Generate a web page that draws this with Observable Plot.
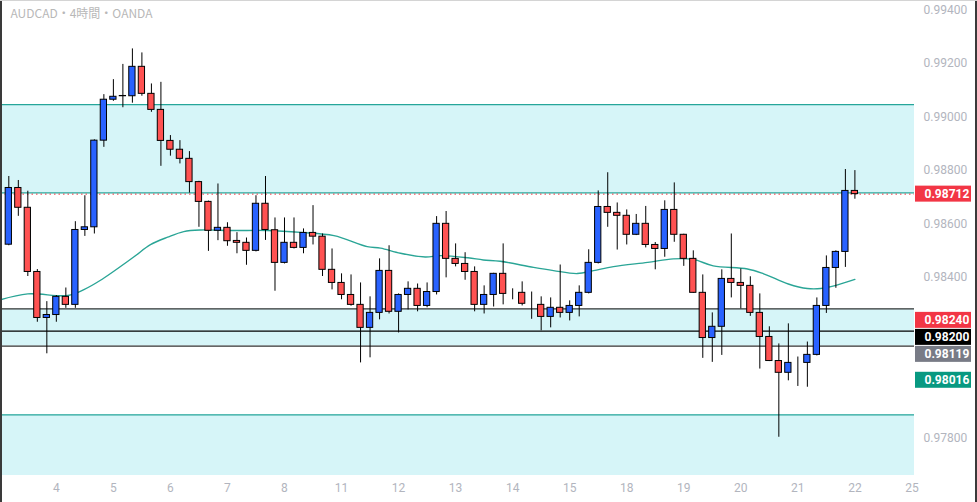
<!DOCTYPE html>
<html>
<head>
<meta charset="utf-8">
<script src="https://cdn.jsdelivr.net/npm/d3@7"></script>
<script src="https://cdn.jsdelivr.net/npm/@observablehq/plot@0.6"></script>
<style>
  html, body { margin: 0; padding: 0; background: #fff; }
  #wrap { position: relative; width: 977px; height: 502px; overflow: hidden; }
  .edge { position: absolute; pointer-events: none; }
</style>
</head>
<body>
<div id="wrap">
  <div id="chart"></div>
  <div class="edge" style="left:0;top:0;width:2px;height:502px;background:#3a3a3a"></div>
  <div class="edge" style="right:0;top:0;width:2px;height:502px;background:#3a3a3a"></div>
  <div class="edge" style="left:0;top:0;width:977px;height:1px;background:#d4d4d4"></div>
</div>
<script>
// ---- data (AUDCAD 4h, OANDA) ----
const opens = [0.98523,0.98735,0.98661,0.98421,0.98249,0.98260,0.98328,0.98298,0.98578,0.98588,
0.98912,0.99065,0.99078,0.99078,0.99188,0.99087,0.99027,0.98911,0.98878,0.98844,
0.98757,0.98683,0.98575,0.98586,0.98537,0.98530,0.98500,0.98676,0.98577,0.98455,
0.98530,0.98511,0.98567,0.98553,0.98429,0.98380,0.98335,0.98298,0.98212,0.98268,
0.98425,0.98272,0.98335,0.98358,0.98294,0.98346,0.98601,0.98470,0.98451,0.98421,
0.98298,0.98335,0.98414,0.98341,0.98343,0.98302,0.98298,0.98253,0.98287,0.98268,
0.98294,0.98343,0.98455,0.98664,0.98642,0.98631,0.98560,0.98601,0.98522,0.98507,
0.98653,0.98560,0.98470,0.98343,0.98174,0.98216,0.98395,0.98380,0.98369,0.98268,
0.98178,0.98088,0.98044,0.98081,0.98081,0.98111,0.98294,0.98436,0.98496,0.98724];
const highs = [0.98778,0.98763,0.98723,0.98430,0.98310,0.98333,0.98361,0.98609,0.98706,0.98915,
0.99084,0.99140,0.99197,0.99255,0.99240,0.99124,0.99130,0.98931,0.98912,0.98871,
0.98760,0.98686,0.98750,0.98605,0.98568,0.98548,0.98706,0.98778,0.98623,0.98623,
0.98623,0.98582,0.98669,0.98563,0.98507,0.98414,0.98410,0.98380,0.98328,0.98470,
0.98519,0.98339,0.98384,0.98376,0.98380,0.98628,0.98647,0.98526,0.98493,0.98440,
0.98369,0.98416,0.98526,0.98358,0.98384,0.98346,0.98328,0.98324,0.98447,0.98313,
0.98369,0.98504,0.98724,0.98792,0.98679,0.98653,0.98636,0.98666,0.98531,0.98687,
0.98754,0.98562,0.98500,0.98410,0.98268,0.98429,0.98563,0.98432,0.98403,0.98339,
0.98216,0.98152,0.98227,0.98103,0.98159,0.98324,0.98481,0.98500,0.98804,0.98800];
const lows = [0.98519,0.98629,0.98404,0.98233,0.98115,0.98233,0.98285,0.98285,0.98554,0.98563,
0.98887,0.99059,0.99035,0.99052,0.99078,0.99018,0.98816,0.98854,0.98825,0.98716,
0.98588,0.98498,0.98538,0.98517,0.98489,0.98446,0.98496,0.98539,0.98349,0.98451,
0.98507,0.98489,0.98522,0.98404,0.98354,0.98317,0.98293,0.98081,0.98100,0.98242,
0.98264,0.98193,0.98279,0.98272,0.98287,0.98335,0.98399,0.98440,0.98390,0.98272,
0.98264,0.98290,0.98298,0.98317,0.98294,0.98244,0.98201,0.98212,0.98249,0.98238,
0.98253,0.98339,0.98451,0.98588,0.98503,0.98522,0.98557,0.98511,0.98429,0.98476,
0.98532,0.98442,0.98341,0.98098,0.98083,0.98109,0.98324,0.98283,0.98255,0.98058,
0.98086,0.97803,0.98014,0.97993,0.97990,0.98107,0.98266,0.98360,0.98438,0.98693];
const closes = [0.98735,0.98661,0.98421,0.98249,0.98260,0.98328,0.98298,0.98578,0.98588,0.98912,
0.99065,0.99076,0.99079,0.99188,0.99087,0.99027,0.98911,0.98878,0.98844,0.98757,
0.98683,0.98575,0.98586,0.98536,0.98530,0.98500,0.98676,0.98578,0.98455,0.98530,
0.98511,0.98567,0.98553,0.98429,0.98380,0.98335,0.98298,0.98212,0.98268,0.98425,
0.98272,0.98335,0.98358,0.98294,0.98346,0.98601,0.98470,0.98451,0.98421,0.98298,
0.98335,0.98414,0.98339,0.98341,0.98302,0.98302,0.98253,0.98287,0.98268,0.98294,
0.98343,0.98455,0.98664,0.98642,0.98631,0.98560,0.98601,0.98522,0.98507,0.98653,
0.98560,0.98470,0.98343,0.98174,0.98216,0.98395,0.98380,0.98369,0.98268,0.98178,
0.98088,0.98044,0.98081,0.98081,0.98111,0.98294,0.98436,0.98496,0.98724,0.98712];

// moving average (bar position, price)
const maBar = [-0.87,2,6.2,7.9,9.6,13.1,14.9,16.7,18.4,20.2,23.6,27.2,30.7,34.2,37.7,39.1,41.2,43.8,45.4,48.3,
49.9,51.7,55.2,57.3,59.8,61.5,63.6,67.2,69.9,72,74.1,77.7,79.4,82,84,85.4,86.8,89];
const maVal = [0.98317,0.98339,0.98333,0.98355,0.98389,0.98476,0.98523,0.98551,0.98572,0.98578,0.98576,0.98576,
0.98569,0.98557,0.98516,0.98510,0.98491,0.98477,0.98482,0.98474,0.98466,0.98461,0.98438,0.98426,0.98415,
0.98426,0.98441,0.98457,0.98470,0.98468,0.98444,0.98432,0.98414,0.98376,0.98359,0.98359,0.98369,0.98393];

// x-axis day labels (first bar of each day)
const dayBar = [5,11,17,23,29,35,41,47,53,59,65,71,77,83,89,95];
const dayLabel = ["4","5","6","7","8","11","12","13","14","15","18","19","20","21","22","25"];

// y-axis ticks that are visible (0.980 and 0.982 are hidden behind price tags)
const yTicks = [0.978,0.984,0.986,0.988,0.990,0.992,0.994];

// zones
const zoneLow  = [0.98717, 0.98144, 0.97660];
const zoneHigh = [0.99047, 0.98283, 0.97887];
const zoneEdge = ["#26a69a", "#333333", "#26a69a"];
const midLevel = [0.98200];

// price tags on the right scale
const tagValue = [0.98712, 0.98240, 0.98200, 0.98119, 0.98016];
const tagColor = ["#f23645", "#f23645", "#000000", "#787b86", "#089981"];

// ---- build ----
const candles = opens.map((o, i) => ({i, o, h: highs[i], l: lows[i], c: closes[i]}));
const ma = maBar.map((b, k) => ({b, v: maVal[k]}));
const dayMap = new Map(dayBar.map((b, k) => [b, dayLabel[k]]));
const zones = zoneLow.map((lo, k) => ({lo, hi: zoneHigh[k], edge: zoneEdge[k]}));

const xMin = -0.874, xMax = 95.27;
const yMin = 0.97660, yMax = 0.99436;
const H = 502, mB = 27, mR = 63;
const pxPerPrice = (H - mB) / (yMax - yMin);
const pxPerBar = (977 - mR) / (xMax - xMin);

// stack tags so boxes do not overlap
const gap = 17 / pxPerPrice, half = 8 / pxPerPrice;
const tags = [];
tagValue.forEach((v, k) => {
  const pos = k === 0 ? v : Math.min(v, tags[k - 1].pos - gap);
  tags.push({v, pos, color: tagColor[k]});
});

const blue = "#2962ff", red = "#ff5252";
const fmt = d3.format(".5f");

const chart = Plot.plot({
  width: 977, height: H,
  marginLeft: 0, marginRight: mR, marginTop: 0, marginBottom: mB,
  x: {domain: [xMin, xMax], axis: null},
  y: {domain: [yMin, yMax], axis: null},
  style: {fontFamily: "Roboto, 'Noto Sans', sans-serif", background: "#ffffff", overflow: "visible"},
  marks: [
    Plot.rect(zones, {x1: xMin, x2: xMax, y1: "lo", y2: "hi", fill: "#d6f5f8"}),
    Plot.ruleY(zones.filter(z => z.lo > yMin), {y: "lo", x1: xMin, x2: xMax, stroke: "edge", strokeWidth: 1.2}),
    Plot.ruleY(zones, {y: "hi", x1: xMin, x2: xMax, stroke: "edge", strokeWidth: 1.2}),
    Plot.ruleY(midLevel, {x1: xMin, x2: xMax, stroke: "#000000", strokeWidth: 1.3}),
    Plot.ruleY([closes[closes.length - 1]], {x1: xMin, x2: xMax, stroke: "#f23645", strokeWidth: 1, strokeDasharray: "1.5,3"}),
    Plot.line(ma, {x: "b", y: "v", stroke: "#2aa596", strokeWidth: 1.4, curve: "catmull-rom", clip: true}),
    Plot.ruleX(candles, {x: "i", y1: "l", y2: "h", stroke: "#000000", strokeWidth: 1}),
    Plot.rect(candles, {
      x1: d => d.i - 0.33, x2: d => d.i + 0.33, y1: "o", y2: "c",
      fill: d => d.c >= d.o ? blue : red, stroke: "#000000", strokeWidth: 1
    }),
    Plot.axisY(yTicks, {anchor: "right", tickSize: 0, tickPadding: 9, tickFormat: fmt,
      fill: "#b2b5be", fontSize: 12}),
    Plot.axisX(dayBar, {anchor: "bottom", tickSize: 0, tickPadding: 8,
      tickFormat: d => dayMap.get(d), fill: "#b2b5be", fontSize: 12}),
    Plot.rect(tags, {x1: xMax + 1 / pxPerBar, x2: xMax + 57 / pxPerBar,
      y1: d => d.pos - half, y2: d => d.pos + half, fill: "color"}),
    Plot.text(tags, {x: xMax, dx: 10, y: "pos", text: d => fmt(d.v), textAnchor: "start",
      fill: "#ffffff", fontSize: 12, fontWeight: "bold"}),
    Plot.text(["AUDCAD・4時間・OANDA"], {frameAnchor: "top-left", dx: 10, dy: 9, lineAnchor: "top",
      fill: "#b8b8b8", fontSize: 12, fontFamily: "'Noto Sans CJK JP', 'Noto Sans', sans-serif"})
  ]
});
document.getElementById("chart").appendChild(chart);
</script>
</body>
</html>
